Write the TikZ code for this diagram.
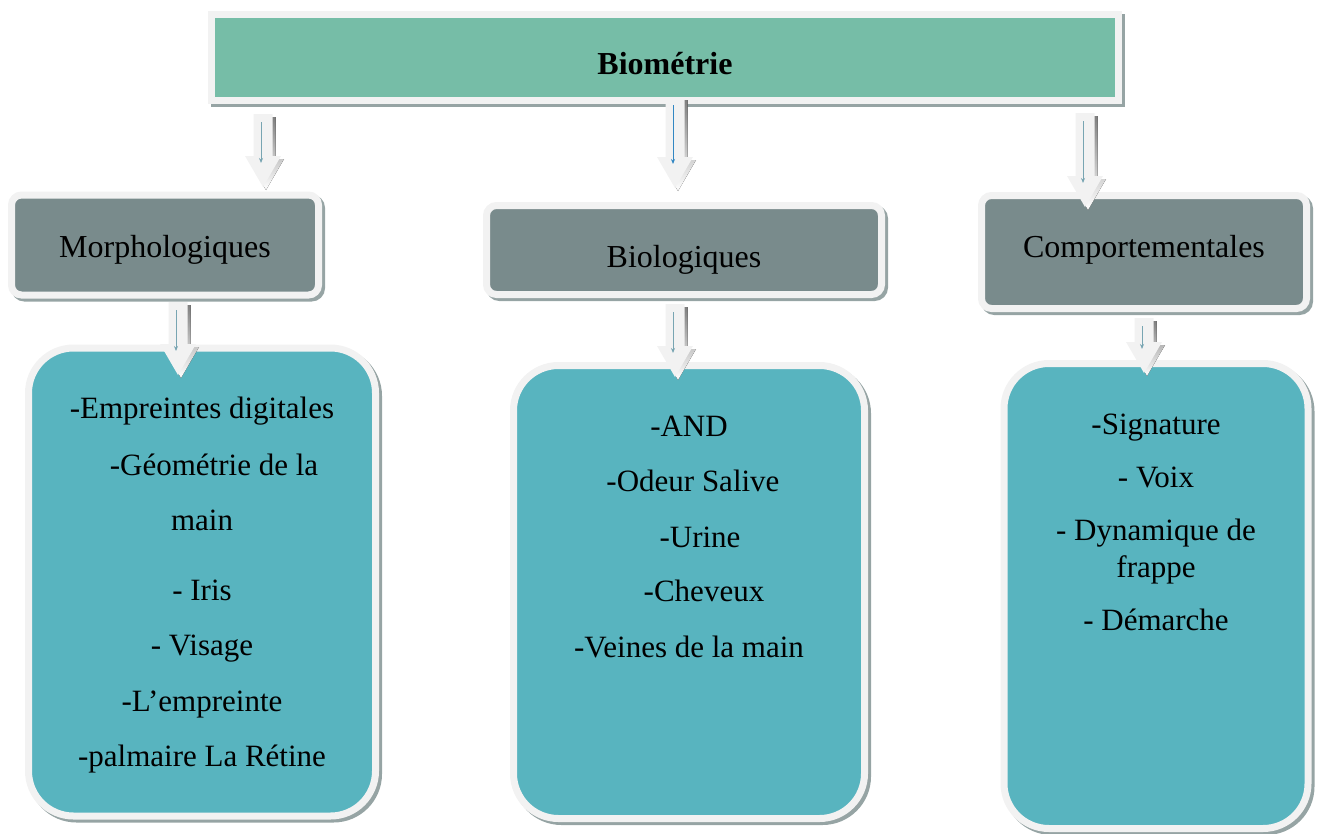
\documentclass[tikz,border=0pt]{standalone}
\usepackage{fontspec}
\setmainfont{Liberation Serif}
\usepackage{tikz}
\usetikzlibrary{calc,shadows,arrows.meta}

\definecolor{headgreen}{RGB}{118,189,167}
\definecolor{groupgray}{RGB}{121,139,140}
\definecolor{listteal}{RGB}{88,180,191}
\definecolor{rim}{RGB}{242,242,242}
\definecolor{shade}{RGB}{150,164,164}
\definecolor{tealline}{RGB}{120,165,178}
\definecolor{blueline}{RGB}{50,135,195}

\newcommand{\listtext}[3]{\parbox[c][#1][t]{300pt}{\centering\vspace*{#2}#3}}
\newcommand{\blockarrow}[3][tealline]{%
  \fill[shade] let \p1=(#2), \p2=(#3) in
    (\x1-6.5pt,\y1-3pt) -- (\x1+12.5pt,\y1-3pt) -- (\x1+12.5pt,\y2+28pt)
    -- (\x1+21pt,\y2+28pt) -- (\x1+3pt,\y2-3pt) -- (\x1-15pt,\y2+28pt)
    -- (\x1-6.5pt,\y2+28pt) -- cycle;
  \fill[rim] let \p1=(#2), \p2=(#3) in
    (\x1-9.5pt,\y1) -- (\x1+9.5pt,\y1) -- (\x1+9.5pt,\y2+31pt)
    -- (\x1+18pt,\y2+31pt) -- (\x1,\y2) -- (\x1-18pt,\y2+31pt)
    -- (\x1-9.5pt,\y2+31pt) -- cycle;
  \draw[#1, line width=0.9pt, -{Stealth[length=5pt,width=4pt]}] let \p1=(#2), \p2=(#3) in
    (\x1-2pt,\y1-8pt) -- (\x1-2pt,\y2+24pt);
}

\begin{document}
\begin{tikzpicture}[
    x=1pt, y=-1pt,
    every node/.style={font=\fontsize{31}{37}\selectfont, inner sep=0pt},
    framed/.style={draw=rim, line width=7pt,
      drop shadow={shadow xshift=3pt, shadow yshift=-3pt, fill=shade, draw=shade, line width=7pt, opacity=1}},
    header/.style={framed, fill=headgreen, minimum width=907pt, minimum height=86pt,
      font=\fontsize{32}{38}\selectfont\bfseries, text height=34pt, text depth=0pt},
    groupbox/.style={framed, fill=groupgray, rounded corners=10pt, font=\fontsize{32}{38}\selectfont},
    listbox/.style={framed, fill=listteal, rounded corners=45pt},
]
\useasboundingbox (0,0) rectangle (1317,833);

\node[header] (head) at (665,57) {Biométrie};

\node[groupbox, minimum width=307pt, minimum height=100pt, text height=25pt, text depth=0pt] (morph) at (165,245) {Morphologiques};
\node[groupbox, minimum width=395pt, minimum height=89pt, text height=35pt, text depth=0pt] (bio) at (684,250) {Biologiques};
\node[groupbox, minimum width=325pt, minimum height=113pt, text height=18pt, text depth=7pt] (comp) at (1144,252) {Comportementales};

\node[listbox, minimum width=347pt, minimum height=468pt] (morphlist) at (202,582)
  {\listtext{468pt}{49pt}{-Empreintes digitales\\[20pt]
   \hspace*{24pt}-Géométrie de la\\[18pt] main\\[33pt] - Iris\\[18pt] - Visage\\[19pt]
   -L’empreinte\\[18pt] -palmaire La Rétine}};
\node[listbox, minimum width=351pt, minimum height=453pt] (biolist) at (689,592)
  {\listtext{453pt}{51pt}{-AND\\[18pt] \hspace*{8pt}-Odeur Salive\\[19pt]
   \hspace*{22pt}-Urine\\[17pt] \hspace*{30pt}-Cheveux\\[19pt] -Veines de la main}};
\node[listbox, minimum width=304pt, minimum height=465pt] (complist) at (1156,596)
  {\listtext{465pt}{50pt}{-Signature\\[16pt] - Voix\\[16pt] - Dynamique de\\
   frappe\\[16pt] - Démarche}};

% arrow ends
\coordinate (a1) at (263,114);  \coordinate (b1) at (263,187);
\coordinate (a2) at (675,97);   \coordinate (b2) at (675,188);
\coordinate (a3) at (1085,113); \coordinate (b3) at (1085,207);
\coordinate (c1) at (178,302);  \coordinate (d1) at (178,375);
\coordinate (c2) at (675,304);  \coordinate (d2) at (675,377);
\coordinate (c3) at (1144,318); \coordinate (d3) at (1144,373);

\blockarrow{a1}{b1}
\blockarrow[blueline]{a2}{b2}
\blockarrow{a3}{b3}
\blockarrow{c1}{d1}
\blockarrow{c2}{d2}
\blockarrow{c3}{d3}
\end{tikzpicture}
\end{document}
